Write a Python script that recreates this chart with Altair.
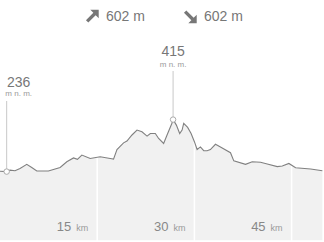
import altair as alt
import pandas as pd

# Elevation profile (km, m a.s.l.)
km = [0, 1.03, 1.55, 2.32, 3.09, 4.13, 4.9, 5.68, 7.47, 9.28, 10.31, 11.34, 11.95,
      12.63, 13.92, 15.46, 17.01, 17.52, 18.05, 19.07, 19.59, 20.37, 21.14, 21.91,
      22.69, 23.2, 23.97, 24.48, 25.25, 25.78, 26.55, 26.71, 27.22, 27.73, 28.1,
      28.35, 28.96, 29.49, 30.0, 30.42, 30.93, 31.44, 31.96, 32.47, 33.25, 34.02,
      35.57, 36.08, 37.89, 38.92, 40.21, 41.24, 42.79, 43.56, 44.58, 45.62, 47.94, 49.75]
elev = [237, 236, 241, 239, 247, 261, 250, 238, 238, 250, 270, 283, 278,
        293, 281, 287, 281, 279, 312, 335, 341, 362, 379, 373,
        358, 367, 367, 350, 333, 362, 403, 415, 396, 367, 379,
        402, 388, 367, 339, 312, 321, 308, 308, 312, 330, 321,
        301, 273, 261, 270, 268, 262, 253, 255, 264, 249, 245, 239]

tick_km = [15, 30, 45]
tick_labels = ["15", "30", "45"]

ascent = 602
descent = 602

min_km, min_elev = 1.03, 236
max_km, max_elev = 26.71, 415

W, H = 324, 242
FONT = "Liberation Sans"

df = pd.DataFrame({"km": km, "elev": elev})
ticks = pd.DataFrame({"km": tick_km, "label": tick_labels, "unit": ["km"] * 3})

xs = alt.Scale(domain=[0, 50], range=[0, W], nice=False, zero=False)
ys = alt.Scale(domain=[0.5, 826.7], range=[240, 0], nice=False, zero=False)
X = alt.X("km:Q", scale=xs, axis=None)
Y = alt.Y("elev:Q", scale=ys, axis=None)

base = alt.Chart(df)

area = base.mark_area(color="#f1f1f1").encode(x=X, y=Y)
grid = alt.Chart(ticks).mark_rule(color="#ffffff", strokeWidth=1.5).encode(
    x=X, y=alt.value(0), y2=alt.value(H))
line = base.mark_line(color="#808080", strokeWidth=1.1).encode(x=X, y=Y)

km_num = alt.Chart(ticks).mark_text(
    align="right", baseline="alphabetic", dx=-26, fontSize=13, font=FONT, color="#888"
).encode(x=X, y=alt.value(231), text="label:N")
km_unit = alt.Chart(ticks).mark_text(
    align="right", baseline="alphabetic", dx=-9, fontSize=9, font=FONT, color="#999"
).encode(x=X, y=alt.value(231), text="unit:N")

def annot(k, e, rule_top, dx, num_dy, unit_dy):
    d = pd.DataFrame({"km": [k], "elev": [e], "t": [str(e)], "u": ["m n. m."]})
    c = alt.Chart(d)
    r = c.mark_rule(color="#c8c8c8", strokeWidth=1).encode(x=X, y=Y, y2=alt.value(rule_top))
    p = c.mark_point(shape="circle", filled=True, fill="white", stroke="#aaaaaa",
                     strokeWidth=1, size=30, opacity=1).encode(x=X, y=Y)
    t1 = c.mark_text(fontSize=14, font=FONT, color="#777", dx=dx, dy=num_dy,
                     baseline="middle").encode(x=X, y=Y, text="t:N")
    t2 = c.mark_text(fontSize=8, font=FONT, color="#999", dx=dx, dy=unit_dy,
                     baseline="middle").encode(x=X, y=Y, text="u:N")
    return [r, p, t1, t2]

a_min = annot(min_km, min_elev, 101, 12, -89, -77.5)
a_max = annot(max_km, max_elev, 71, 0, -68, -55)

hdr = pd.DataFrame({
    "x": [106, 204], "t": [f"{ascent} m", f"{descent} m"],
    "ax": [92, 190],
    "shape": ["M1,-1 L1,0.25 L0.55,-0.2 L-0.55,0.9 L-0.9,0.55 L0.2,-0.55 L-0.25,-1 Z",
              "M1,1 L1,-0.25 L0.55,0.2 L-0.55,-0.9 L-0.9,-0.55 L0.2,0.55 L-0.25,1 Z"],
})
hdr_text = alt.Chart(hdr).mark_text(
    align="left", baseline="middle", fontSize=14, font=FONT, color="#777"
).encode(x=alt.X("x:Q", scale=None), y=alt.value(17), text="t:N")
arrow_up = alt.Chart(hdr.iloc[[0]]).mark_point(
    shape=hdr["shape"][0], filled=True, color="#777", size=180, opacity=1
).encode(x=alt.X("ax:Q", scale=None), y=alt.value(16.5))
arrow_dn = alt.Chart(hdr.iloc[[1]]).mark_point(
    shape=hdr["shape"][1], filled=True, color="#777", size=180, opacity=1
).encode(x=alt.X("ax:Q", scale=None), y=alt.value(16.5))

chart = alt.layer(
    area, grid, line, km_num, km_unit, *a_min, *a_max, hdr_text, arrow_up, arrow_dn
).properties(
    width=W, height=H, padding=0, autosize=alt.AutoSizeParams(type="none")
).configure_view(stroke=None)

chart.save("out.html", embed_options={"renderer": "svg", "actions": False})
